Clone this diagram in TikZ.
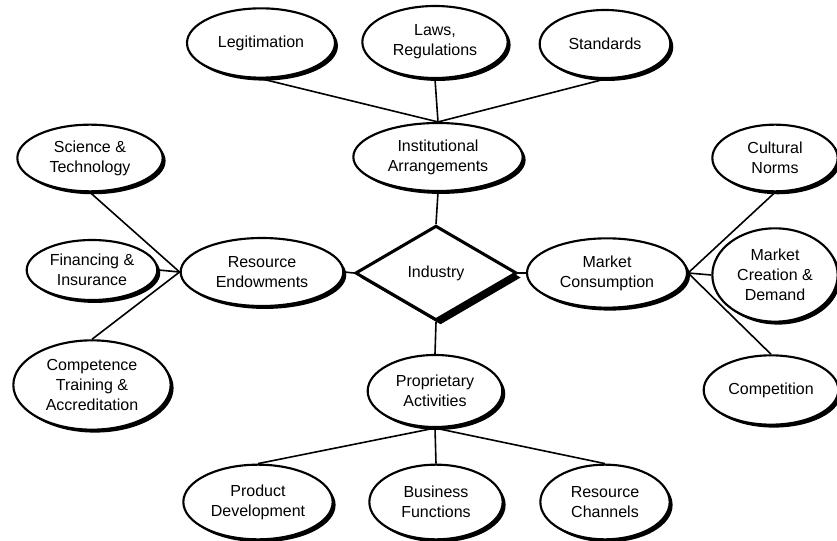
\documentclass[tikz,border=0pt]{standalone}
\usepackage{fontspec}
\setmainfont{Liberation Sans}
\usetikzlibrary{shapes.geometric,shadows}
\tikzset{
  factor/.style = {ellipse, draw, line width=1.6pt, fill=white, inner sep=0pt,
                   align=center, font=\fontsize{12}{15}\selectfont,
                   drop shadow={shadow xshift=2.2pt, shadow yshift=-2.2pt,
                                fill=black, opacity=1}},
  core/.style   = {diamond, draw, line width=2.3pt, fill=white, inner sep=0pt,
                   font=\fontsize{12}{15}\selectfont,
                   drop shadow={shadow xshift=3.4pt, shadow yshift=-3.4pt,
                                fill=black, opacity=1}},
  link/.style   = {line width=1.2pt},
}

\begin{document}
\begin{tikzpicture}[x=0.75pt, y=-0.75pt]
  \useasboundingbox (0,0) rectangle (837,541);
  % centre
  \node[core, minimum width=121pt, minimum height=71pt] (ind) at (436,273) {Industry};
  % four domains
  \node[factor, minimum width=127pt, minimum height=51pt] (inst) at (438,157) {Institutional\\Arrangements};
  \node[factor, minimum width=122pt, minimum height=51pt] (res) at (262,272) {Resource\\Endowments};
  \node[factor, minimum width=120pt, minimum height=52pt] (mkt) at (607,273) {Market\\Consumption};
  \node[factor, minimum width=101pt, minimum height=54pt] (prop) at (435,391) {Proprietary\\Activities};
  % institutional
  \node[factor, minimum width=111pt, minimum height=52pt] (legit) at (261,43) {Legitimation};
  \node[factor, minimum width=109pt, minimum height=54pt] (laws) at (435,42) {Laws,\\Regulations};
  \node[factor, minimum width=98pt, minimum height=51pt] (stand) at (605,44) {Standards};
  % resources
  \node[factor, minimum width=109pt, minimum height=50pt] (sci) at (90,158) {Science \&\\Technology};
  \node[factor, minimum width=98pt, minimum height=45pt] (fin) at (92,270) {Financing \&\\Insurance};
  \node[factor, minimum width=118pt, minimum height=67pt] (comp) at (92,385) {Competence\\Training \&\\Accreditation};
  % market
  \node[factor, minimum width=94pt, minimum height=50pt] (cult) at (775,158) {Cultural\\Norms};
  \node[factor, minimum width=94pt, minimum height=70pt] (create) at (775,275) {Market\\Creation \&\\Demand};
  \node[factor, minimum width=101pt, minimum height=52pt] (compet) at (771,390) {Competition};
  % proprietary
  \node[factor, minimum width=112pt, minimum height=56pt] (prod) at (258,502) {Product\\Development};
  \node[factor, minimum width=100pt, minimum height=56pt] (bus) at (436,502) {Business\\Functions};
  \node[factor, minimum width=97pt, minimum height=56pt] (chan) at (605,502) {Resource\\Channels};

  \draw[link] (inst.south) -- (ind.north);
  \draw[link] (ind.south) -- (prop.north);
  \draw[link] (res.east) -- (ind.west);
  \draw[link] (ind.east) -- (mkt.west);

  \draw[link] (legit.south) -- (inst.north);
  \draw[link] (laws.south) -- (inst.north);
  \draw[link] (stand.south) -- (inst.north);

  \draw[link] (sci.south) -- (res.west);
  \draw[link] (fin.east) -- (res.west);
  \draw[link] (comp.north) -- (res.west);

  \draw[link] (cult.south) -- (mkt.east);
  \draw[link] (create.west) -- (mkt.east);
  \draw[link] (compet.north) -- (mkt.east);

  \draw[link] (prop.south) -- (prod.north);
  \draw[link] (prop.south) -- (bus.north);
  \draw[link] (prop.south) -- (chan.north);
\end{tikzpicture}
\end{document}
